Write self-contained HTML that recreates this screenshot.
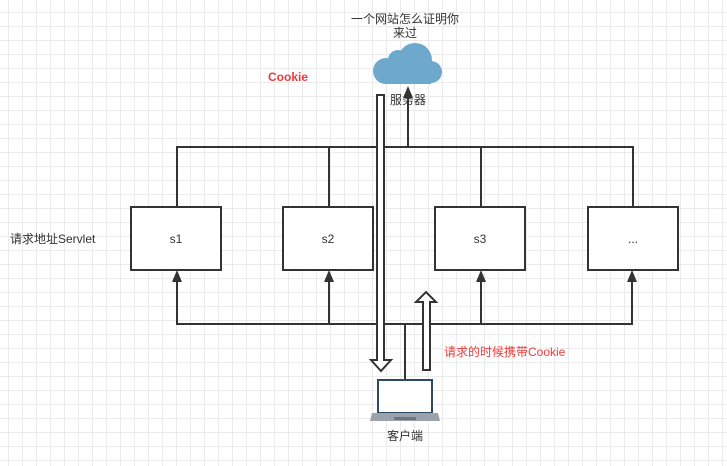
<!DOCTYPE html>
<html><head><meta charset="utf-8"><style>
body{margin:0;width:727px;height:466px;overflow:hidden;background:#fff;
background-image:linear-gradient(to right,#ebebeb 1px,transparent 1px),linear-gradient(to bottom,#ebebeb 1px,transparent 1px);
background-size:14px 14px;background-position:8px 12px;font-family:"Liberation Sans","Noto Sans CJK SC",sans-serif;}
</style></head><body>
<svg width="727" height="466" style="position:absolute;left:0;top:0" font-family="Liberation Sans, Noto Sans CJK SC, sans-serif">
<g stroke="#333" stroke-width="2" fill="none">
<polyline points="177,206 177,147 633,147 633,207"/>
<line x1="329" y1="147" x2="329" y2="206"/>
<line x1="481" y1="147" x2="481" y2="206"/>
<line x1="408" y1="147" x2="408" y2="95"/>
<polyline points="177,280 177,324 632,324 632,280"/>
<line x1="329" y1="324" x2="329" y2="280"/>
<line x1="481" y1="324" x2="481" y2="280"/>
<line x1="405" y1="324" x2="405" y2="380"/>
</g>
<g fill="#333">
<polygon points="177,270 172,282 182,282"/>
<polygon points="329,270 324,282 334,282"/>
<polygon points="481,270 476,282 486,282"/>
<polygon points="632,270 627,282 637,282"/>
</g>
<g fill="#fff" stroke="#333" stroke-width="2">
<rect x="131" y="207" width="90" height="63"/>
<rect x="283" y="207" width="90" height="63"/>
<rect x="435" y="207" width="90" height="63"/>
<rect x="588" y="207" width="90" height="63"/>
<polygon points="377,95 384,95 384,360 391,360 381,371 371,360 377,360"/>
<polygon points="423,370 430,370 430,302 436,302 426,292 416,302 423,302"/>
</g>
<g fill="#6fa8cd">
<circle cx="386" cy="71" r="13"/>
<circle cx="398" cy="60" r="10"/>
<circle cx="415" cy="60" r="17"/>
<circle cx="431" cy="72" r="11"/>
<rect x="386" y="70" width="45" height="14"/>
</g>
<polygon points="408,86 403,98 413,98" fill="#333"/>
<rect x="378" y="380" width="54" height="33" fill="#fff" stroke="#2f4a60" stroke-width="2"/>
<path d="M372,413 L438,413 L440,421 L370,421 Z" fill="#9aa3ab"/>
<rect x="394" y="417" width="22" height="3" fill="#6d7780"/>
<g font-size="12" fill="#333" text-anchor="middle">
<text x="176" y="243">s1</text><text x="328" y="243">s2</text><text x="480" y="243">s3</text><text x="633" y="243">...</text>
<text x="405" y="23">一个网站怎么证明你</text>
<text x="405" y="37">来过</text>
<text x="408" y="104">服务器</text>
<text x="405" y="440">客户端</text>
</g>
<text x="10" y="243" font-size="12" fill="#333">请求地址Servlet</text>
<text x="268" y="81" font-size="12" font-weight="bold" fill="#f03a3a">Cookie</text>
<text x="444" y="356" font-size="12" fill="#f03a3a">请求的时候携带Cookie</text>
</svg>
</body></html>
